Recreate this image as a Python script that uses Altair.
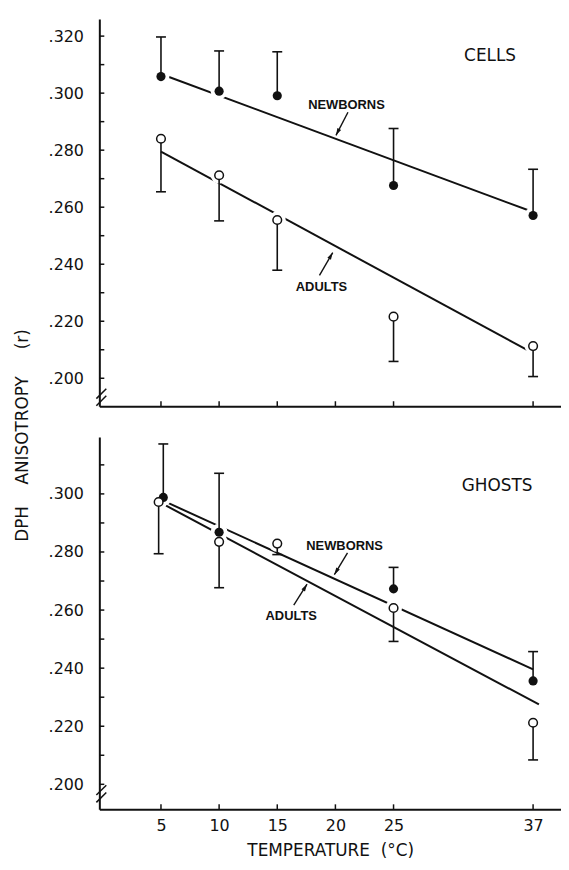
import altair as alt
import pandas as pd

# ---------------- data ----------------
X_TICKS = [5, 10, 15, 20, 25, 37]
X_DOMAIN = [-0.3, 39.4]

# CELLS panel
CELLS_NB_TEMP = [5, 10, 15, 25, 37]
CELLS_NB = [0.3058, 0.3007, 0.2991, 0.2676, 0.2571]
CELLS_NB_ERR = [0.3197, 0.3148, 0.3145, 0.2876, 0.2733]
CELLS_AD_TEMP = [5, 10, 15, 25, 37]
CELLS_AD = [0.2840, 0.2712, 0.2555, 0.2216, 0.2113]
CELLS_AD_ERR = [0.2654, 0.2552, 0.2379, 0.2059, 0.2006]
CELLS_FIT_TEMP = [5, 37]
CELLS_NB_FIT = [0.3067, 0.2583]
CELLS_AD_FIT = [0.2795, 0.2088]
CELLS_Y_DOMAIN = [0.1902, 0.3260]
CELLS_Y_LABELS = [0.20, 0.22, 0.24, 0.26, 0.28, 0.30, 0.32]
CELLS_Y_TICKS = [0.20, 0.21, 0.22, 0.23, 0.24, 0.25, 0.26, 0.27, 0.28, 0.29, 0.30, 0.31, 0.32]
CELLS_BREAKS = [0.1946, 0.1921]

# GHOSTS panel
GHOSTS_NB_TEMP = [5.2, 10, 25, 37]
GHOSTS_NB = [0.2988, 0.2868, 0.2673, 0.2356]
GHOSTS_NB_ERR = [0.3172, 0.3071, 0.2747, 0.2457]
GHOSTS_AD_TEMP = [4.8, 10, 15, 25, 37]
GHOSTS_AD = [0.2972, 0.2835, 0.2829, 0.2607, 0.2212]
GHOSTS_AD_ERR = [0.2794, 0.2677, 0.2791, 0.2492, 0.2084]
GHOSTS_NB_FIT_TEMP = [5, 37]
GHOSTS_NB_FIT = [0.2980, 0.2396]
GHOSTS_AD_FIT_TEMP = [5, 37.5]
GHOSTS_AD_FIT = [0.2969, 0.2275]
GHOSTS_Y_DOMAIN = [0.1914, 0.3196]
GHOSTS_Y_LABELS = [0.20, 0.22, 0.24, 0.26, 0.28, 0.30]
GHOSTS_Y_TICKS = [0.20, 0.21, 0.22, 0.23, 0.24, 0.25, 0.26, 0.27, 0.28, 0.29, 0.30, 0.31]
GHOSTS_BREAKS = [0.1980, 0.1955]

# annotations: label, temperature, value
CELLS_TEXT = ["CELLS", "NEWBORNS", "ADULTS"]
CELLS_TEXT_T = [33.3, 20.95, 18.8]
CELLS_TEXT_V = [0.3130, 0.2958, 0.2321]
GHOSTS_TEXT = ["GHOSTS", "NEWBORNS", "ADULTS"]
GHOSTS_TEXT_T = [33.9, 20.79, 16.2]
GHOSTS_TEXT_V = [0.3027, 0.2822, 0.2581]
TEXT_SIZE = [17, 13, 13]
TEXT_WEIGHT = ["normal", "bold", "bold"]
TEXT_FONT = ["DejaVu Sans", "Liberation Sans", "Liberation Sans"]

# arrows: from (t, v) to tip (t2, v2), head angle
CELLS_ARROW_T = [21.08, 18.63]
CELLS_ARROW_V = [0.2933, 0.2361]
CELLS_ARROW_T2 = [20.05, 19.77]
CELLS_ARROW_V2 = [0.2852, 0.2441]
CELLS_ARROW_A = [207, 30]
GHOSTS_ARROW_T = [21.04, 16.42]
GHOSTS_ARROW_V = [0.2797, 0.2617]
GHOSTS_ARROW_T2 = [19.91, 17.56]
GHOSTS_ARROW_V2 = [0.2722, 0.2689]
GHOSTS_ARROW_A = [211, 32]

W = 465
BLACK = "#111111"
FONT = "DejaVu Sans"


def panel(nb_t, nb, nb_e, ad_t, ad, ad_e, fits, y_domain, height,
          y_labels, y_ticks, breaks, texts, arrows, bottom):
    pts = pd.DataFrame(
        {"t": nb_t + ad_t, "v": nb + ad, "e": nb_e + ad_e,
         "g": ["NB"] * len(nb) + ["AD"] * len(ad)}
    )
    fit = pd.DataFrame(fits)
    xs = alt.Scale(domain=X_DOMAIN, nice=False, zero=False)
    ys = alt.Scale(domain=y_domain, nice=False, zero=False)
    if bottom:
        xaxis = alt.Axis(values=X_TICKS, ticks=False, grid=False, labelPadding=8,
                         labelFont=FONT, labelFontSize=16, labelColor=BLACK,
                         domainColor=BLACK, domainWidth=2,
                         title="TEMPERATURE\u00a0\u00a0(°C)", titlePadding=10,
                         titleFont=FONT, titleFontSize=17, titleFontWeight="normal",
                         titleColor=BLACK)
        yaxis = alt.Axis(values=y_labels, ticks=False, grid=False, labelPadding=16,
                         labelExpr="substring(format(datum.value, '.3f'), 1)",
                         labelFont=FONT, labelFontSize=16, labelColor=BLACK,
                         domainColor=BLACK, domainWidth=2, title=None)
    else:
        xaxis = alt.Axis(labels=False, ticks=False, grid=False, title=None,
                         domainColor=BLACK, domainWidth=2)
        yaxis = alt.Axis(values=y_labels, ticks=False, grid=False, labelPadding=16,
                         labelExpr="substring(format(datum.value, '.3f'), 1)",
                         labelFont=FONT, labelFontSize=16, labelColor=BLACK,
                         domainColor=BLACK, domainWidth=2,
                         title="DPH\u00a0\u00a0\u00a0\u00a0ANISOTROPY\u00a0\u00a0\u00a0\u00a0\u00a0(r)",
                         titleX=-77, titleY=419, titleAngle=270, titleAlign="center",
                         titleBaseline="middle", titleFont=FONT, titleFontSize=17,
                         titleFontWeight="normal", titleColor=BLACK)
    X = alt.X("t:Q", scale=xs, axis=xaxis)
    Y = alt.Y("v:Q", scale=ys, axis=yaxis)

    lines = alt.Chart(fit).mark_line(color=BLACK, strokeWidth=2).encode(
        x=X, y=Y, detail="g:N")
    halo = alt.Chart(pts).mark_point(shape="circle", filled=True, fill="white",
                                     strokeWidth=0, size=290, opacity=1).encode(x=X, y=Y)
    bars = alt.Chart(pts).mark_rule(color=BLACK, strokeWidth=1.6).encode(
        x=X, y=Y, y2=alt.Y2("e:Q"))
    caps = alt.Chart(pts).mark_tick(orient="horizontal", size=10, thickness=1.6,
                                    color=BLACK, opacity=1).encode(
        x=X, y=alt.Y("e:Q", scale=ys, axis=yaxis))
    filled = alt.Chart(pts).transform_filter("datum.g == 'NB'").mark_point(
        shape="circle", filled=True, color=BLACK, size=85, opacity=1).encode(x=X, y=Y)
    hollow = alt.Chart(pts).transform_filter("datum.g == 'AD'").mark_point(
        shape="circle", fill="white", stroke=BLACK, strokeWidth=1.5, size=76,
        opacity=1, fillOpacity=1).encode(x=X, y=Y)

    yt = alt.Chart(pd.DataFrame({"v": y_ticks})).mark_rule(
        color=BLACK, strokeWidth=1.5).encode(x=alt.value(0), x2=alt.value(5), y=Y)
    xt = alt.Chart(pd.DataFrame({"t": X_TICKS})).mark_rule(
        color=BLACK, strokeWidth=1.5).encode(x=X, y=alt.value(height),
                                             y2=alt.value(height - 5))
    brk = alt.Chart(pd.DataFrame({"v": breaks})).mark_rule(
        color=BLACK, strokeWidth=1.5, yOffset=5, y2Offset=-5).encode(
        x=alt.value(-3), x2=alt.value(7), y=Y, y2=alt.Y2("v:Q"))

    labels, lt, lv = texts
    tdf = pd.DataFrame({"label": labels, "t": lt, "v": lv})
    txt_layers = []
    for i in range(len(labels)):
        txt_layers.append(
            alt.Chart(tdf.iloc[[i]]).mark_text(
                font=TEXT_FONT[i], fontSize=TEXT_SIZE[i], fontWeight=TEXT_WEIGHT[i],
                align="center", baseline="middle", color=BLACK).encode(
                x=X, y=Y, text="label:N"))

    at, av, at2, av2, aa = arrows
    adf = pd.DataFrame({"t": at, "v": av, "t2": at2, "v2": av2, "a": aa})
    shaft = alt.Chart(adf).mark_rule(color=BLACK, strokeWidth=1.4).encode(
        x=X, y=Y, x2=alt.X2("t2:Q"), y2=alt.Y2("v2:Q"))
    head = alt.Chart(adf).mark_point(
        shape="M0,0L-0.7,2.4L0.7,2.4Z", filled=True, color=BLACK, size=36,
        opacity=1).encode(
        x=alt.X("t2:Q", scale=xs, axis=xaxis), y=alt.Y("v2:Q", scale=ys, axis=yaxis),
        angle=alt.Angle("a:Q", scale=None))

    return alt.layer(lines, halo, bars, caps, filled, hollow, yt, xt, brk,
                     *txt_layers, shaft, head).properties(width=W, height=height)


top = panel(CELLS_NB_TEMP, CELLS_NB, CELLS_NB_ERR, CELLS_AD_TEMP, CELLS_AD, CELLS_AD_ERR,
            {"t": CELLS_FIT_TEMP + CELLS_FIT_TEMP, "v": CELLS_NB_FIT + CELLS_AD_FIT,
             "g": ["NB", "NB", "AD", "AD"]},
            CELLS_Y_DOMAIN, 390, CELLS_Y_LABELS, CELLS_Y_TICKS, CELLS_BREAKS,
            (CELLS_TEXT, CELLS_TEXT_T, CELLS_TEXT_V),
            (CELLS_ARROW_T, CELLS_ARROW_V, CELLS_ARROW_T2, CELLS_ARROW_V2, CELLS_ARROW_A),
            False)

bottom = panel(GHOSTS_NB_TEMP, GHOSTS_NB, GHOSTS_NB_ERR, GHOSTS_AD_TEMP, GHOSTS_AD,
               GHOSTS_AD_ERR,
               {"t": GHOSTS_NB_FIT_TEMP + GHOSTS_AD_FIT_TEMP,
                "v": GHOSTS_NB_FIT + GHOSTS_AD_FIT,
                "g": ["NB", "NB", "AD", "AD"]},
               GHOSTS_Y_DOMAIN, 375, GHOSTS_Y_LABELS, GHOSTS_Y_TICKS, GHOSTS_BREAKS,
               (GHOSTS_TEXT, GHOSTS_TEXT_T, GHOSTS_TEXT_V),
               (GHOSTS_ARROW_T, GHOSTS_ARROW_V, GHOSTS_ARROW_T2, GHOSTS_ARROW_V2,
                GHOSTS_ARROW_A),
               True)

chart = alt.vconcat(top, bottom, spacing=31, bounds="flush").properties(
    padding={"left": 6, "top": 8, "right": 0, "bottom": 0},
    background="white",
).configure_view(strokeWidth=0)

chart.save("out.html", embed_options={"renderer": "svg", "actions": False})
